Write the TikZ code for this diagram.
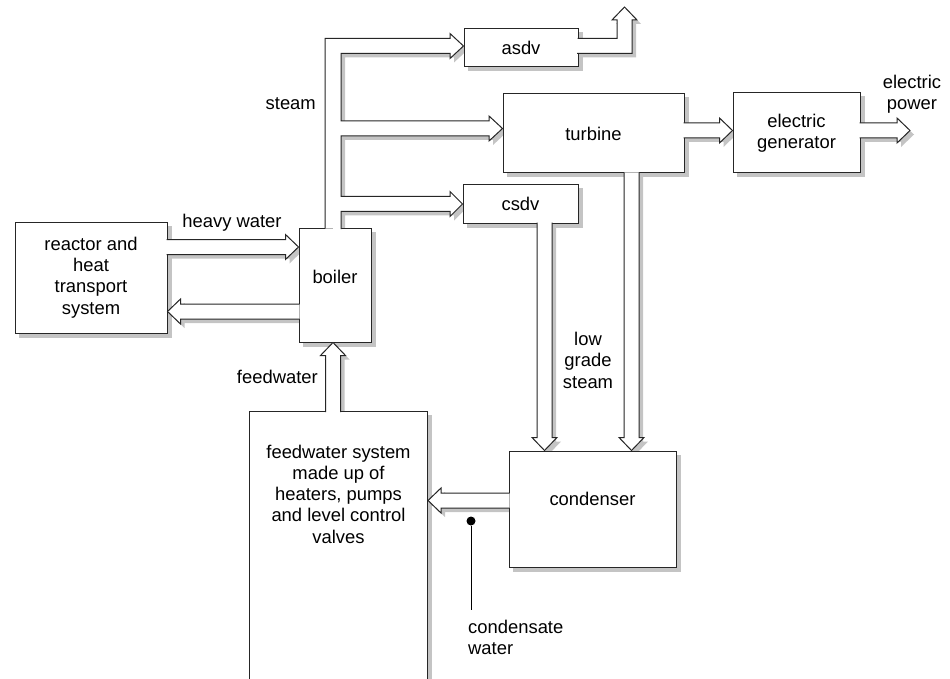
\documentclass[tikz,border=0pt]{standalone}
\usepackage{fontspec}
\setmainfont{Liberation Sans}
\usetikzlibrary{calc,positioning}
\definecolor{shadegray}{RGB}{196,196,196}
\pgfdeclarelayer{shade}
\pgfsetlayers{shade,main}
\tikzset{
  txt/.style={font=\fontsize{18.4}{21.3}\selectfont, align=center, inner sep=0pt},
  box/.style={txt, draw=black!85, line width=1pt, fill=white},
  pipeline/.style={draw=black!85, line width=1pt, fill=white, line join=miter},
  dot/.style={circle, fill=black, inner sep=0pt, minimum size=9pt},
}
% hollow pipe with its shadow
\newcommand\pipe[2][]{%
  \begin{pgfonlayer}{shade}
    \begin{scope}[transform canvas={shift={(4pt,-4pt)}}]
      \fill[shadegray,#1] #2;
    \end{scope}
  \end{pgfonlayer}
  \path[pipeline,#1] #2;}
% straight pipe: from, tip, direction
\newcommand\flow[3]{%
  \path let \p1=(#1), \p2=(#2), \n1={veclen(\x2-\x1,\y2-\y1)} in \pgfextra{\xdef\flowlen{\n1}};
  \pipe[shift={(#1)},rotate=#3]{(-1pt,-7.5pt) -- (\flowlen-13pt,-7.5pt) -- (\flowlen-13pt,-12.5pt)
    -- (\flowlen,0pt) -- (\flowlen-13pt,12.5pt) -- (\flowlen-13pt,7.5pt) -- (-1pt,7.5pt)}}
\begin{document}
\begin{tikzpicture}[x=1pt,y=-1pt]
  \useasboundingbox (0,0) rectangle (950,679);
  %\draw[help lines] (0,0) grid[step=50] (950,679);
  \node[box, minimum width=152pt, minimum height=111pt] (reactor) at (91,277.5) {reactor and\\heat\\transport\\system};
  \node[box, minimum width=72pt, minimum height=114pt, label={[txt,yshift=8.5pt]center:boiler}] (boiler) at (335,285) {};
  \node[box, minimum width=114pt, minimum height=38pt] (asdv) at (521,48) {asdv};
  \node[box, minimum width=181pt, minimum height=79pt] (turbine) at (593.5,133.5) {turbine};
  \node[box, minimum width=115pt, minimum height=38pt] (csdv) at (520.5,204) {csdv};
  \node[box, minimum width=127pt, minimum height=80pt] (generator) at (796.5,133) {electric\\generator};
  \node[box, minimum width=167pt, minimum height=116pt, label={[txt,yshift=10pt]center:condenser}] (condenser) at (592.5,509) {};
  \node[box, minimum width=178pt, minimum height=300pt, anchor=north west] (feed) at (249,411) {};
  \node[txt, below=33.5pt of feed.north] (feedtext) {feedwater system\\made up of\\heaters, pumps\\and level control\\valves};
  \begin{pgfonlayer}{shade}
    \begin{scope}[transform canvas={shift={(4pt,-4pt)}}]
      \foreach \b in {reactor,boiler,asdv,turbine,csdv,generator,condenser,feed}
        \fill[shadegray] (\b.south west) rectangle (\b.north east);
    \end{scope}
  \end{pgfonlayer}
  \coordinate (vent) at (624.5,7);
  \coordinate (power) at (910,130.5);
  \flow{reactor.east |- 0,247}{boiler.west |- 0,247}{0}
  \flow{boiler.west |- 0,311.5}{reactor.east |- 0,311.5}{180}
  \flow{turbine.east |- 0,130.5}{generator.west |- 0,130.5}{0}
  \flow{generator.east |- 0,130.5}{power}{0}
  \flow{turbine.south -| 631.5,0}{condenser.north -| 631.5,0}{270}
  \flow{csdv.south -| 544.5,0}{condenser.north -| 544.5,0}{270}
  \flow{condenser.west |- 0,500.5}{feed.east |- 0,500.5}{180}
  \flow{feed.north -| 333,0}{boiler.south -| 333,0}{90}
  \pipe{(boiler.north -| 325,0) ++(0,1) -- (325,38.5) -- (450,38.5) -- (450,33.5) -- (asdv.west |- 0,46)
    -- (450,58.5) -- (450,53.5) -- (341,53.5) -- (341,121) -- (489,121) -- (489,116) -- (turbine.west |- 0,128.5)
    -- (489,141) -- (489,136) -- (341,136) -- (341,196.5) -- (450,196.5) -- (450,191.5) -- (csdv.west |- 0,204)
    -- (450,216.5) -- (450,211.5) -- (341,211.5) -- (341,229)}
  \pipe{(asdv.east |- 0,38.5) ++(-1,0) -- (617,38.5) -- (617,20) -- (612,20) -- (vent) -- (637,20)
    -- (632,20) -- (632,53.5) -- (577,53.5)}
  \node[txt, anchor=base] (hwlabel) at (232,228) {heavy water};
  \node[txt, anchor=base east] (steamlabel) at (316,110) {steam};
  \node[txt, anchor=base east] (fwlabel) at (318,383) {feedwater};
  \node[txt, anchor=north] (lgslabel) at (588,332) {low\\grade\\steam};
  \node[txt, anchor=north] (powerlabel) at (912,75) {electric\\power};
  \node[dot] (cwdot) at (471,521) {};
  \coordinate (cwend) at (471,610);
  \draw[line width=1pt] (cwdot) -- (cwend);
  \node[txt, align=left, anchor=north west] (cwlabel) at (468,619.5) {condensate\\water};
\end{tikzpicture}
\end{document}
